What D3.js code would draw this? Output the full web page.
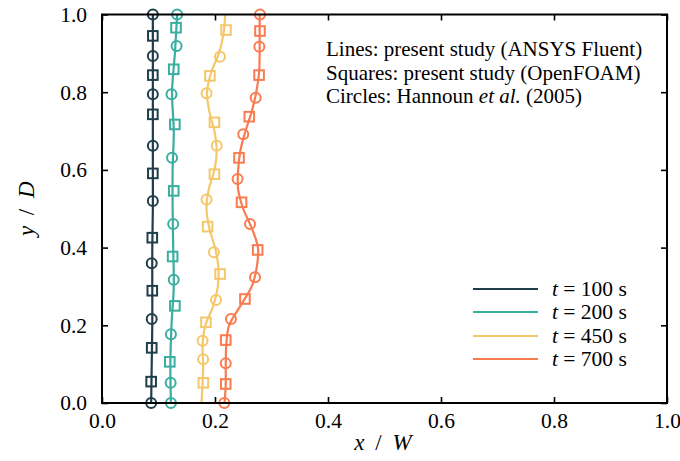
<!DOCTYPE html>
<html><head><meta charset="utf-8">
<script src="https://cdn.jsdelivr.net/npm/d3@7"></script>
<style>body{margin:0;background:#fff}text{font-family:"Liberation Serif","Times New Roman",Times,serif}</style>
</head><body><svg id="c" width="680" height="461"></svg>
<script>
const seriesNames = ["t = 100 s","t = 200 s","t = 450 s","t = 700 s"];
const colors = ["#1f3e49","#3aaea0","#f4c86a","#f97b50"];
const xTicks = [0,0.2,0.4,0.6,0.8,1.0];
const yTicks = [0,0.2,0.4,0.6,0.8,1.0];

// Lines: ANSYS Fluent (y, x)
const line100 = [[0,0.087],[0.1,0.088],[0.2,0.089],[0.3,0.089],[0.4,0.089],[0.5,0.09],[0.6,0.09],[0.7,0.09],[0.8,0.09],[0.9,0.09],[1.0,0.09]];
const line200 = [[0,0.122],[0.1,0.121],[0.2,0.123],[0.3,0.127],[0.4,0.126],[0.5,0.125],[0.6,0.125],[0.7,0.127],[0.8,0.124],[0.9,0.129],[1.0,0.133]];
const line450 = [[0,0.176],[0.05,0.178],[0.1,0.179],[0.15,0.178],[0.2,0.183],[0.25,0.197],[0.3,0.205],[0.35,0.206],[0.4,0.2],[0.45,0.19],[0.5,0.185],[0.55,0.189],[0.6,0.199],[0.65,0.203],[0.7,0.199],[0.75,0.19],[0.8,0.186],[0.85,0.193],[0.9,0.207],[0.95,0.215],[1.0,0.218]];
const line700 = [[0,0.217],[0.05,0.219],[0.1,0.219],[0.15,0.22],[0.2,0.225],[0.25,0.245],[0.3,0.265],[0.35,0.274],[0.4,0.276],[0.45,0.265],[0.5,0.25],[0.55,0.241],[0.6,0.241],[0.65,0.245],[0.7,0.254],[0.75,0.265],[0.8,0.273],[0.85,0.278],[0.9,0.279],[0.95,0.279],[1.0,0.279]];

// Squares: OpenFOAM (y, x)
const sq100 = [[0.945,0.09],[0.844,0.09],[0.743,0.09],[0.591,0.09],[0.4255,0.089],[0.289,0.089],[0.142,0.088],[0.055,0.087]];
const sq200 = [[0.966,0.131],[0.859,0.127],[0.717,0.129],[0.546,0.127],[0.377,0.125],[0.25,0.129],[0.106,0.12]];
const sq450 = [[0.96,0.2195],[0.842,0.191],[0.7225,0.199],[0.589,0.199],[0.454,0.187],[0.332,0.209],[0.2077,0.184],[0.052,0.1794]];
const sq700 = [[0.9575,0.2796],[0.844,0.278],[0.737,0.2607],[0.631,0.2425],[0.5166,0.247],[0.394,0.2755],[0.2677,0.253],[0.162,0.219],[0.049,0.219]];

// Circles: Hannoun et al. (2005) (y, x)
const ci100 = [[1.0,0.09],[0.893,0.09],[0.795,0.09],[0.662,0.09],[0.52,0.09],[0.36,0.088],[0.216,0.088],[0.0,0.087]];
const ci200 = [[1.0,0.133],[0.919,0.132],[0.795,0.123],[0.631,0.124],[0.461,0.126],[0.317,0.127],[0.177,0.122],[0.052,0.1215],[0.0,0.122]];
const ci450 = [[0.891,0.2088],[0.797,0.185],[0.662,0.203],[0.524,0.185],[0.388,0.198],[0.265,0.2018],[0.16,0.178],[0.1125,0.179]];
const ci700 = [[1.0,0.2796],[0.917,0.2785],[0.786,0.272],[0.6916,0.25],[0.5766,0.24],[0.4607,0.262],[0.3235,0.2708],[0.216,0.2283],[0.102,0.219],[0.0,0.2165]];

const lines = [line100,line200,line450,line700];
const squares = [sq100,sq200,sq450,sq700];
const circles = [ci100,ci200,ci450,ci700];
const annotation = ["Lines: present study (ANSYS Fluent)","Squares: present study (OpenFOAM)","Circles: Hannoun "];

const L=102,R=667,T=14.5,B=403;
const x = d3.scaleLinear().domain([0,1]).range([L,R]);
const y = d3.scaleLinear().domain([0,1]).range([B,T]);
const svg = d3.select("#c");
const SERIF = "Liberation Serif, Times New Roman, serif";

const plot = svg.append("g");
const lineGen = d3.line().x(d=>x(d[1])).y(d=>y(d[0])).curve(d3.curveCatmullRom);
lines.forEach((ln,i)=>{
  plot.append("path").datum(ln).attr("d",lineGen).attr("fill","none").attr("stroke",colors[i]).attr("stroke-width",2.2);
});
circles.forEach((cs,i)=>{
  plot.selectAll(null).data(cs).enter().append("circle")
    .attr("cx",d=>x(d[1])).attr("cy",d=>y(d[0])).attr("r",5)
    .attr("fill","none").attr("stroke",colors[i]).attr("stroke-width",2);
});
squares.forEach((ss,i)=>{
  plot.selectAll(null).data(ss).enter().append("rect")
    .attr("x",d=>x(d[1])-4.8).attr("y",d=>y(d[0])-4.8).attr("width",9.6).attr("height",9.6)
    .attr("fill","none").attr("stroke",colors[i]).attr("stroke-width",2);
});

// axes with inward ticks
const fmt = d3.format(".1f");
const gx = svg.append("g").attr("transform",`translate(0,${B})`).call(d3.axisBottom(x).tickValues(xTicks).tickFormat(fmt).tickSizeInner(-6).tickSizeOuter(0).tickPadding(10));
const gxt = svg.append("g").attr("transform",`translate(0,${T})`).call(d3.axisTop(x).tickValues(xTicks).tickFormat("").tickSizeInner(-6).tickSizeOuter(0));
const gy = svg.append("g").attr("transform",`translate(${L},0)`).call(d3.axisLeft(y).tickValues(yTicks).tickFormat(fmt).tickSizeInner(-6).tickSizeOuter(0).tickPadding(15));
const gyr = svg.append("g").attr("transform",`translate(${R},0)`).call(d3.axisRight(y).tickValues(yTicks).tickFormat("").tickSizeInner(-6).tickSizeOuter(0));
[gx,gxt,gy,gyr].forEach(g=>{
  g.attr("font-family",SERIF);
  g.selectAll(".domain").remove();
  g.selectAll(".tick line").attr("stroke","#000").attr("stroke-width",1.6);
  g.selectAll(".tick text").attr("fill","#000").attr("font-size",21.5);
});
svg.append("rect").attr("x",L).attr("y",T).attr("width",R-L).attr("height",B-T).attr("fill","none").attr("stroke","#000").attr("stroke-width",2);

// axis labels
const xl = svg.append("text").attr("x",383).attr("y",450).attr("text-anchor","middle").attr("font-size",23).attr("word-spacing",5);
xl.append("tspan").attr("font-style","italic").text("x");
xl.append("tspan").text(" / ");
xl.append("tspan").attr("font-style","italic").text("W");
const yl = svg.append("text").attr("transform",`translate(34,${(T+B)/2}) rotate(-90)`).attr("text-anchor","middle").attr("font-size",23).attr("word-spacing",5);
yl.append("tspan").attr("font-style","italic").text("y");
yl.append("tspan").text(" / ");
yl.append("tspan").attr("font-style","italic").text("D");

// annotation
const ax=326, ay=[56,79.5,103];
annotation.forEach((s,i)=>{
  const t = svg.append("text").attr("x",ax).attr("y",ay[i]).attr("font-size",21);
  t.append("tspan").text(s);
  if(i===2){
    t.append("tspan").attr("font-style","italic").text("et al.");
    t.append("tspan").text(" (2005)");
  }
});

// legend
const lgY=[289,312,336,359];
seriesNames.forEach((n,i)=>{
  svg.append("line").attr("x1",473).attr("x2",538).attr("y1",lgY[i]).attr("y2",lgY[i]).attr("stroke",colors[i]).attr("stroke-width",2.2);
  const t = svg.append("text").attr("x",552).attr("y",lgY[i]+7).attr("font-size",21.5);
  const parts = n.split(" = ");
  t.append("tspan").attr("font-style","italic").text(parts[0]);
  t.append("tspan").text(" = "+parts[1]);
});
</script></body></html>
